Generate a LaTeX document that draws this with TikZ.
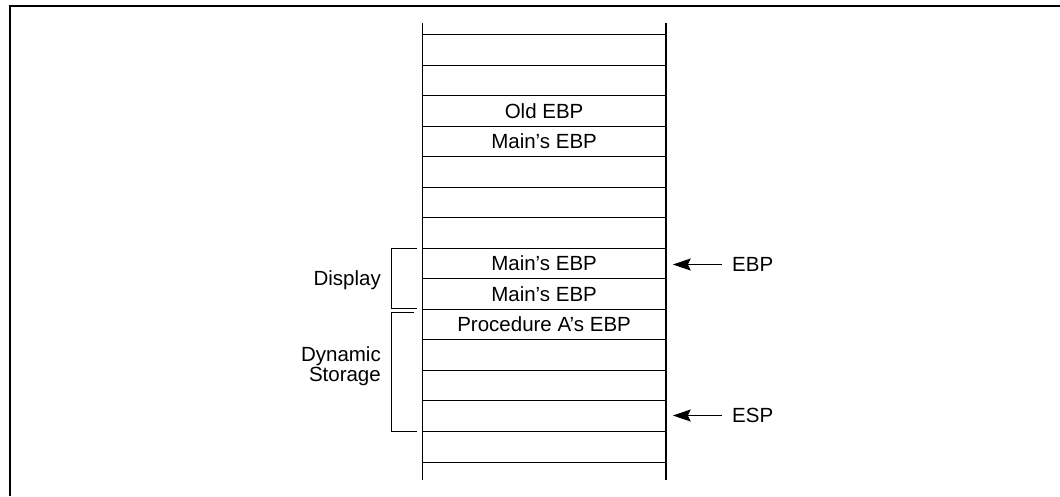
\documentclass[tikz,border=0pt]{standalone}
\usepackage{fontspec}
\setmainfont{Liberation Sans}
\usetikzlibrary{arrows.meta}
\begin{document}
\begin{tikzpicture}[x=1pt,y=-1pt,
  txt/.style={font=\fontsize{20.5}{14}\selectfont, inner sep=0pt},
  cell/.style={minimum width=243pt, minimum height=30.54pt, inner sep=0pt, font=\fontsize{20.5}{14}\selectfont},
  rail/.style={line width=1.8pt},
  rule/.style={line width=1pt},
  brace/.style={line width=0.9pt},
  ptr/.style={line width=1.1pt, -{Stealth[length=18pt,width=12pt,inset=3pt]}}
]
\useasboundingbox (0,0) rectangle (1060,496);

% outer frame (top and left edges)
\draw[line width=2pt] (1060,6) -- (10,6) -- (10,496);

% stack cells, one node per slot
\foreach \k in {0,...,13} {
  \node[cell] (c\k) at (544.1,{34.5+30.54*\k+15.27}) {};
}
\node[cell] at (c2) {Old EBP};
\node[cell] at (c3) {Main’s EBP};
\node[cell] at (c7) {Main’s EBP};
\node[cell] at (c8) {Main’s EBP};
\node[cell] at (c9) {Procedure A’s EBP};

% slot separators
\foreach \k in {0,...,14} {
  \draw[rule] (422.5,{34.5+30.54*\k}) -- (665.7,{34.5+30.54*\k});
}
% stack side rails
\draw[rail] (422.5,23) -- (422.5,480);
\draw[rail] (665.7,23) -- (665.7,480);

% brackets on the left
\draw[brace] (417,248.3) -- (391,248.3) -- (391,308) -- (417,308);
\draw[brace] (414,312.5) -- (391,312.5) -- (391,431.5) -- (417,431.5);
\node[txt, anchor=east] (disp) at (381,280) {Display};
\node[txt, anchor=east, align=right] (dyn) at (381,366) {Dynamic\\Storage};

% register pointers
\node[txt, anchor=west] (ebpl) at (732,264.5) {EBP};
\node[txt, anchor=west] (espl) at (732,415.5) {ESP};
\draw[ptr, shorten <=10pt, shorten >=7pt] (ebpl.west) -- (ebpl.west -| c7.east);
\draw[ptr, shorten <=10pt, shorten >=7pt] (espl.west) -- (espl.west -| c12.east);
\end{tikzpicture}
\end{document}
